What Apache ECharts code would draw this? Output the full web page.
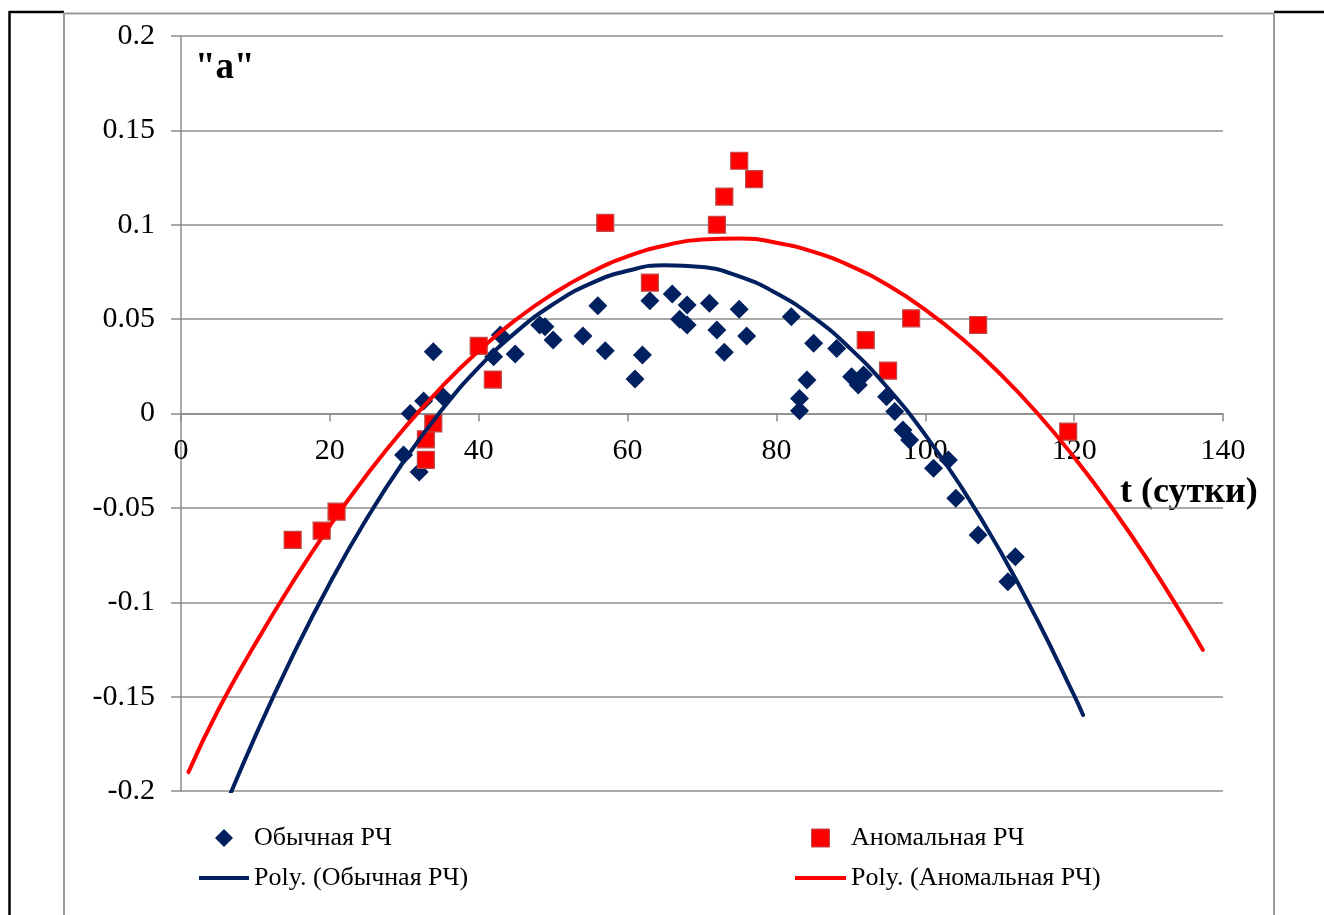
<!DOCTYPE html>
<html>
<head>
<meta charset="utf-8">
<script src="https://cdn.jsdelivr.net/npm/echarts@6/dist/echarts.min.js"></script>
<style>
  html, body { margin: 0; padding: 0; background: #fff; }
  #chart { width: 1324px; height: 915px; }
</style>
</head>
<body>
<div id="chart"></div>
<script>
// Ordinary (Обычная РЧ) measurements: day, value
const ordinaryDays = [29.9, 30.8, 32.0, 32.6, 33.9, 35.2, 42.0, 42.9, 44.9, 48.2, 48.9, 50.0,
  54.0, 56.0, 57.0, 61.0, 62.0, 63.0, 66.0, 67.0, 68.0, 68.0, 71.0, 72.0, 73.0, 75.0, 76.0,
  82.0, 83.1, 83.1, 84.1, 85.0, 88.1, 90.1, 91.0, 91.7, 94.8, 95.9, 97.0, 97.9, 101.1, 103.1,
  104.1, 107.1, 111.1, 112.1];
const ordinaryValues = [-0.022, 0.000, -0.031, 0.0066, 0.0327, 0.0089, 0.0301, 0.0416, 0.0315,
  0.0469, 0.046, 0.0389, 0.0411, 0.0571, 0.0333, 0.0183, 0.031, 0.0598, 0.0633, 0.0499, 0.0575,
  0.0469, 0.0584, 0.0442, 0.0324, 0.0552, 0.0411, 0.0513, 0.008, 0.0015, 0.0177, 0.0372, 0.0345,
  0.0195, 0.0151, 0.0204, 0.0089, 0.001, -0.0087, -0.014, -0.029, -0.0246, -0.0449, -0.0644,
  -0.0891, -0.0759];

// Anomalous (Аномальная РЧ) measurements
const anomalousDays = [15.0, 18.9, 20.9, 32.9, 32.9, 33.9, 40.0, 41.9, 57.0, 63.0, 72.0, 73.0,
  75.0, 77.0, 92.0, 95.0, 98.1, 107.1, 119.2];
const anomalousValues = [-0.067, -0.0621, -0.052, -0.0246, -0.0137, -0.0052, 0.0358, 0.018,
  0.101, 0.0693, 0.100, 0.1149, 0.1339, 0.1242, 0.0389, 0.0227, 0.0504, 0.0469, -0.0096];

// Polynomial trend curves, sampled along their length
const ordinaryTrendDays = [5, 10, 15, 20, 25, 30, 35, 40, 45, 50, 55, 60, 65, 70, 75, 80, 85,
  90, 95, 100, 105, 110, 115, 120, 121.2];
const ordinaryTrendValues = [-0.2171, -0.1708, -0.1284, -0.0899, -0.0554, -0.0249, 0.0017,
  0.0244, 0.0431, 0.0579, 0.0688, 0.0756, 0.0786, 0.0776, 0.0726, 0.0637, 0.0509, 0.0341,
  0.0134, -0.0113, -0.0399, -0.0725, -0.109, -0.1494, -0.1597];

const anomalousTrendDays = [1, 5, 10, 15, 20, 25, 30, 35, 40, 45, 50, 55, 60, 65, 70, 75, 80, 85,
  90, 95, 100, 105, 110, 115, 120, 125, 130, 135, 137.3];
const anomalousTrendValues = [-0.190, -0.1571, -0.1219, -0.0894, -0.0595, -0.0323, -0.0078,
  0.014, 0.0332, 0.0497, 0.0635, 0.0747, 0.0832, 0.089, 0.0922, 0.0927, 0.0905, 0.0856, 0.0781,
  0.0679, 0.055, 0.0395, 0.0212, 0.0004, -0.0232, -0.0494, -0.0783, -0.1099, -0.1253];

// Axis ranges: [min, max, step]
const dayAxis = [0, 140, 20];
const valueAxis = [-0.2, 0.2, 0.05];

const seriesNames = ['Обычная РЧ', 'Аномальная РЧ', 'Poly. (Обычная РЧ)', 'Poly. (Аномальная РЧ)'];
const panelLabel = '"a"';
const dayAxisTitle = 't (сутки)';

const NAVY = '#002060';
const RED = '#ff0000';
const GRID = '#8c8c8c';
const SERIF = '"Liberation Serif", "Times New Roman", serif';

// plot box
const PLOT = { left: 181, right: 101, top: 36, bottom: 124 };
const plotHeight = 915 - PLOT.top - PLOT.bottom;
// distance from the bottom of the plot up to value 0, so the day axis runs along zero
const zeroLift = plotHeight * (0 - valueAxis[0]) / (valueAxis[1] - valueAxis[0]);

const zip = (xs, ys) => xs.map((x, i) => [x, ys[i]]);

const chart = echarts.init(document.getElementById('chart'), null, { renderer: 'canvas' });

chart.setOption({
  animation: false,
  backgroundColor: '#fff',
  grid: { left: PLOT.left, right: PLOT.right, top: PLOT.top, bottom: PLOT.bottom, containLabel: false },
  xAxis: {
    type: 'value',
    position: 'bottom',
    offset: -zeroLift,
    min: dayAxis[0], max: dayAxis[1], interval: dayAxis[2],
    axisLine: { onZero: false, lineStyle: { color: GRID, width: 1.5 } },
    axisTick: { show: true, inside: false, length: 8, lineStyle: { color: GRID, width: 1.5 } },
    axisLabel: { color: '#000', fontFamily: SERIF, fontSize: 30, margin: 23 },
    splitLine: { show: false }
  },
  yAxis: {
    type: 'value',
    min: valueAxis[0], max: valueAxis[1], interval: valueAxis[2],
    axisLine: { show: true, onZero: false, lineStyle: { color: GRID, width: 1.5 } },
    axisTick: { show: true, inside: false, length: 10, lineStyle: { color: GRID, width: 1.5 } },
    axisLabel: {
      color: '#000', fontFamily: SERIF, fontSize: 30, margin: 26,
      formatter: v => String(+v.toFixed(2))
    },
    splitLine: { show: true, lineStyle: { color: GRID, width: 1.5 } }
  },
  legend: [
    {
      left: 194, top: 820, orient: 'vertical', itemGap: 14,
      itemWidth: 50, itemHeight: 18,
      textStyle: { fontFamily: SERIF, fontSize: 26, color: '#000' },
      data: [
        { name: seriesNames[0], icon: 'path://M5,0 L10,5 L5,10 L0,5 Z', itemStyle: { color: NAVY, borderWidth: 0 } },
        { name: seriesNames[2], icon: 'path://M0,0 H50 V4 H0 Z', itemStyle: { color: NAVY, borderWidth: 0 } }
      ],
      selectedMode: false
    },
    {
      left: 790, top: 820, orient: 'vertical', itemGap: 14,
      itemWidth: 51, itemHeight: 18,
      textStyle: { fontFamily: SERIF, fontSize: 26, color: '#000' },
      data: [
        { name: seriesNames[1], icon: 'path://M0,0 H10 V10 H0 Z', itemStyle: { color: RED, borderColor: '#be4b48', borderWidth: 1 } },
        { name: seriesNames[3], icon: 'path://M0,0 H51 V4 H0 Z', itemStyle: { color: RED, borderWidth: 0 } }
      ],
      selectedMode: false
    }
  ],
  series: [
    {
      name: seriesNames[0], type: 'scatter', z: 3,
      symbol: 'diamond', symbolSize: 19,
      itemStyle: { color: NAVY, opacity: 1 },
      data: zip(ordinaryDays, ordinaryValues)
    },
    {
      name: seriesNames[1], type: 'scatter', z: 3,
      symbol: 'rect', symbolSize: 17,
      itemStyle: { color: RED, borderColor: '#be4b48', borderWidth: 1.2, opacity: 1 },
      data: zip(anomalousDays, anomalousValues)
    },
    {
      name: seriesNames[2], type: 'line', z: 4, clip: true,
      symbol: 'none', smooth: true,
      lineStyle: { color: NAVY, width: 4, cap: 'round' },
      itemStyle: { color: NAVY },
      data: zip(ordinaryTrendDays, ordinaryTrendValues)
    },
    {
      name: seriesNames[3], type: 'line', z: 5, clip: true,
      symbol: 'none', smooth: true,
      lineStyle: { color: RED, width: 4, cap: 'round' },
      itemStyle: { color: RED },
      data: zip(anomalousTrendDays, anomalousTrendValues)
    }
  ],
  graphic: [
    // page frame
    { type: 'line', shape: { x1: 9.5, y1: 12, x2: 64, y2: 12 }, style: { stroke: '#000', lineWidth: 2.5 }, silent: true },
    { type: 'line', shape: { x1: 1274, y1: 12, x2: 1324, y2: 12 }, style: { stroke: '#000', lineWidth: 2.5 }, silent: true },
    { type: 'line', shape: { x1: 9.5, y1: 11, x2: 9.5, y2: 915 }, style: { stroke: '#000', lineWidth: 2.5 }, silent: true },
    // chart area border
    { type: 'polyline', shape: { points: [[64, 915], [64, 13.5], [1274, 13.5], [1274, 915]] },
      style: { stroke: '#9a9a9a', fill: null, lineWidth: 2 }, silent: true },
    // panel label and axis title
    { type: 'text', left: 195, top: 50,
      style: { text: panelLabel, font: 'bold 37px ' + SERIF, fill: '#000' }, silent: true },
    { type: 'text', left: 1120, top: 475,
      style: { text: dayAxisTitle, font: 'bold 36px ' + SERIF, fill: '#000' }, silent: true }
  ]
});
</script>
</body>
</html>
